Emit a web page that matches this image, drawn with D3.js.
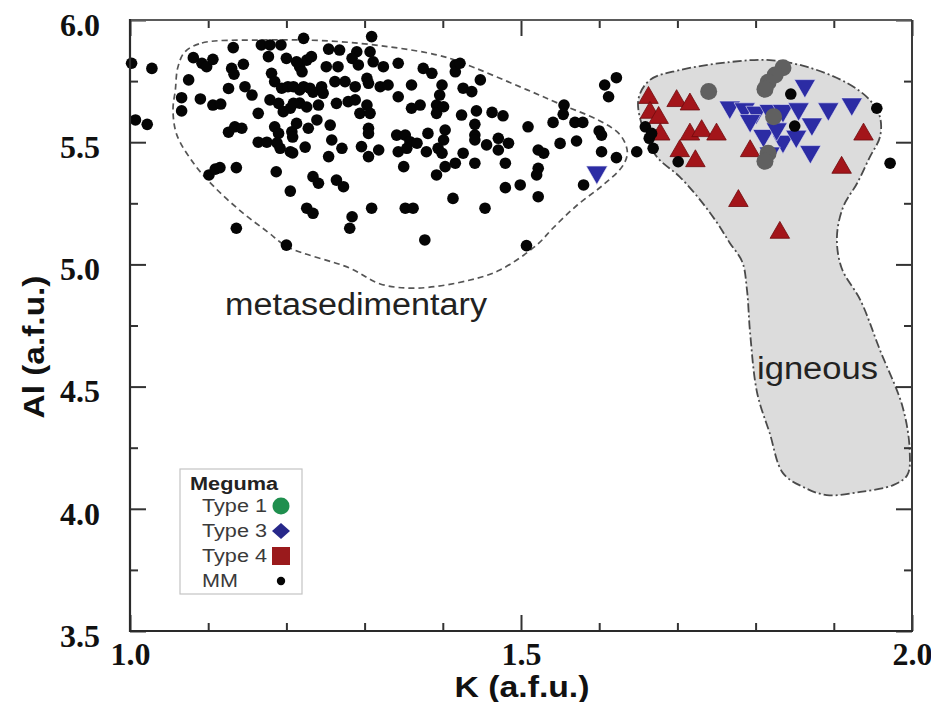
<!DOCTYPE html>
<html>
<head>
<meta charset="utf-8">
<script src="https://cdn.jsdelivr.net/npm/d3@7"></script>
<style>
  body { margin: 0; background: #fff; }
  svg { display: block; }
</style>
</head>
<body>
<svg id="chart" width="931" height="702"></svg>
<script>
// ---- axis settings ----
const xDomain = [1.0, 2.0];
const yDomain = [3.5, 6.0];
const xMajorTicks = [1.0, 1.5, 2.0];
const xMinorTicks = [1.1, 1.2, 1.3, 1.4, 1.6, 1.7, 1.8, 1.9];
const yMajorTicks = [3.5, 4.0, 4.5, 5.0, 5.5, 6.0];
const yMinorTicks = [3.75, 4.25, 4.75, 5.25, 5.75];

// ---- Meguma MM micas: [K, Al] in a.f.u. ----
const mmPoints = [
  [1.002,5.823],[1.028,5.802],[1.007,5.591],[1.022,5.573],
  [1.081,5.846],[1.092,5.823],[1.098,5.809],[1.106,5.839],[1.075,5.755],[1.066,5.682],[1.066,5.628],
  [1.090,5.677],[1.106,5.652],[1.116,5.656],[1.132,5.887],[1.130,5.802],[1.133,5.778],[1.145,5.819],
  [1.126,5.720],[1.147,5.727],[1.156,5.693],[1.164,5.618],[1.126,5.541],[1.134,5.563],[1.143,5.557],
  [1.164,5.500],[1.175,5.500],[1.101,5.366],[1.109,5.390],[1.115,5.396],[1.136,5.396],[1.187,5.379],
  [1.205,5.300],[1.136,5.148],[1.200,5.079],[1.168,5.898],[1.179,5.898],[1.193,5.898],[1.177,5.850],
  [1.200,5.843],[1.181,5.782],[1.185,5.748],[1.194,5.721],[1.202,5.727],[1.179,5.673],[1.190,5.659],
  [1.196,5.625],[1.205,5.639],[1.185,5.563],[1.190,5.536],[1.192,5.475],[1.205,5.461],[1.207,5.543],
  [1.217,5.808],[1.226,5.836],[1.217,5.714],[1.234,5.705],[1.217,5.660],[1.226,5.644],[1.208,5.521],
  [1.208,5.456],[1.224,5.480],[1.188,5.497],
  [1.222,5.925],[1.309,5.932],[1.254,5.881],[1.268,5.877],[1.290,5.870],[1.307,5.870],[1.213,5.829],
  [1.232,5.850],[1.220,5.788],[1.251,5.809],[1.266,5.809],[1.284,5.843],[1.292,5.816],[1.311,5.829],
  [1.324,5.809],[1.343,5.823],[1.375,5.802],[1.386,5.782],[1.416,5.816],[1.416,5.788],[1.209,5.727],
  [1.222,5.727],[1.230,5.721],[1.245,5.727],[1.247,5.700],[1.262,5.748],[1.275,5.748],[1.288,5.727],
  [1.303,5.761],[1.305,5.741],[1.320,5.727],[1.330,5.734],[1.343,5.686],[1.360,5.734],[1.399,5.734],
  [1.396,5.693],[1.426,5.721],[1.209,5.659],[1.241,5.652],[1.264,5.659],[1.279,5.666],[1.288,5.673],
  [1.303,5.652],[1.294,5.618],[1.307,5.618],[1.360,5.639],[1.371,5.652],[1.392,5.652],[1.392,5.618],
  [1.401,5.645],[1.424,5.611],[1.213,5.577],[1.228,5.557],[1.239,5.591],[1.256,5.570],[1.305,5.557],
  [1.305,5.536],[1.341,5.529],[1.352,5.529],[1.358,5.502],[1.367,5.496],[1.381,5.536],[1.403,5.550],
  [1.401,5.509],[1.258,5.509],[1.271,5.475],[1.254,5.441],[1.296,5.482],[1.305,5.441],[1.318,5.468],
  [1.343,5.461],[1.354,5.475],[1.350,5.400],[1.379,5.461],[1.394,5.475],[1.399,5.455],[1.392,5.366],
  [1.403,5.400],[1.416,5.414],[1.426,5.455],[1.234,5.359],[1.241,5.332],[1.264,5.345],[1.273,5.318],
  [1.226,5.230],[1.234,5.209],[1.284,5.195],[1.281,5.148],[1.309,5.230],[1.352,5.230],[1.362,5.230],
  [1.413,5.270],[1.377,5.100],
  [1.422,5.823],[1.448,5.755],[1.437,5.707],[1.443,5.628],[1.463,5.622],[1.477,5.608],[1.441,5.573],
  [1.441,5.529],[1.441,5.509],[1.456,5.489],[1.471,5.516],[1.484,5.496],[1.471,5.468],[1.441,5.414],
  [1.480,5.414],[1.509,5.563],[1.522,5.468],[1.529,5.455],[1.522,5.393],[1.520,5.366],[1.480,5.314],
  [1.499,5.325],[1.522,5.277],[1.454,5.230],[1.507,5.077],[1.541,5.581],[1.555,5.652],[1.554,5.614],
  [1.569,5.581],[1.579,5.581],[1.550,5.495],[1.571,5.505],[1.600,5.546],[1.603,5.529],[1.603,5.461],
  [1.622,5.437],[1.580,5.325],[1.607,5.734],[1.622,5.764],[1.612,5.686],[1.648,5.461],
  [1.659,5.563],[1.664,5.516],[1.669,5.475],[1.667,5.536],[1.701,5.420],[1.845,5.697],[1.850,5.566],
  [1.955,5.639],[1.972,5.414]
];

// ---- Type 1 (grey circles) ----
const type1Points = [
  [1.740,5.707],[1.835,5.805],[1.825,5.775],[1.816,5.745],[1.812,5.717],
  [1.823,5.604],[1.816,5.455],[1.812,5.422]
];

// ---- Type 3 (blue inverted triangles) ----
const type3Points = [
  [1.597,5.373],
  [1.863,5.727],[1.767,5.639],[1.786,5.632],[1.801,5.618],[1.818,5.625],[1.835,5.625],
  [1.855,5.632],[1.893,5.632],[1.923,5.652],[1.872,5.570],[1.810,5.523],[1.835,5.499],
  [1.852,5.520],[1.870,5.457],[1.818,5.451],[1.827,5.550],[1.793,5.584]
];

// ---- Type 4 (red triangles) ----
const type4Points = [
  [1.663,5.686],[1.665,5.625],[1.676,5.604],[1.678,5.536],[1.699,5.673],[1.716,5.659],
  [1.716,5.536],[1.731,5.550],[1.750,5.536],[1.703,5.468],[1.723,5.427],[1.793,5.468],
  [1.938,5.536],[1.910,5.400],[1.778,5.264],[1.831,5.134]
];

// ---- field outlines ----
const metasedBoundary = [
  [1.070,5.869],[1.092,5.906],[1.164,5.918],[1.256,5.914],[1.332,5.890],[1.393,5.857],
  [1.422,5.828],[1.508,5.714],[1.550,5.656],[1.601,5.587],[1.627,5.529],[1.636,5.460],
  [1.630,5.403],[1.605,5.325],[1.572,5.243],[1.541,5.149],[1.520,5.079],[1.473,4.977],
  [1.435,4.936],[1.367,4.903],[1.320,4.920],[1.281,4.985],[1.202,5.071],[1.176,5.133],
  [1.143,5.214],[1.109,5.313],[1.083,5.407],[1.060,5.529],[1.055,5.632],[1.058,5.714],
  [1.061,5.804]
];
const igneousBoundary = [
  [1.650,5.673],[1.665,5.755],[1.703,5.795],[1.767,5.828],[1.818,5.836],[1.866,5.808],
  [1.917,5.742],[1.946,5.673],[1.959,5.603],[1.959,5.521],[1.946,5.439],[1.930,5.333],
  [1.912,5.235],[1.904,5.112],[1.910,4.985],[1.934,4.854],[1.959,4.650],[1.988,4.417],
  [1.997,4.241],[1.994,4.138],[1.976,4.097],[1.934,4.069],[1.891,4.056],[1.861,4.089],
  [1.835,4.146],[1.818,4.310],[1.802,4.474],[1.793,4.719],[1.789,4.895],[1.783,5.010],
  [1.767,5.088],[1.751,5.169],[1.729,5.264],[1.703,5.358],[1.674,5.439],[1.659,5.529]
];

const legendTitle = "Meguma";
const legendItems = [
  { label: "Type 1", shape: "circle" },
  { label: "Type 3", shape: "diamond" },
  { label: "Type 4", shape: "square" },
  { label: "MM", shape: "dot" }
];

// ---- drawing ----
const svg = d3.select("#chart");
svg.append("rect").attr("width", 931).attr("height", 702).attr("fill", "#fff");

const plotLeft = 130, plotRight = 912, plotTop = 20, plotBottom = 631;
const x = d3.scaleLinear().domain(xDomain).range([plotLeft, plotRight]);
const y = d3.scaleLinear().domain(yDomain).range([plotBottom, plotTop]);

const outline = d3.line()
  .x(d => x(d[0])).y(d => y(d[1]))
  .curve(d3.curveCatmullRomClosed.alpha(0.5));

// igneous field (filled)
svg.append("path")
  .attr("d", outline(igneousBoundary))
  .attr("fill", "#dcdcdc")
  .attr("stroke", "#4a4a4a")
  .attr("stroke-width", 1.8)
  .attr("stroke-dasharray", "9,3,2,3");

// metasedimentary field (outline only)
svg.append("path")
  .attr("d", outline(metasedBoundary))
  .attr("fill", "none")
  .attr("stroke", "#555")
  .attr("stroke-width", 1.7)
  .attr("stroke-dasharray", "6,4");

// field labels
svg.append("text")
  .attr("x", 225).attr("y", 315)
  .attr("font-family", "Liberation Sans, Arial, sans-serif")
  .attr("font-size", 31)
  .attr("fill", "#222")
  .attr("textLength", 262).attr("lengthAdjust", "spacingAndGlyphs")
  .text("metasedimentary");

svg.append("text")
  .attr("x", 757).attr("y", 379)
  .attr("font-family", "Liberation Sans, Arial, sans-serif")
  .attr("font-size", 31)
  .attr("fill", "#222")
  .attr("textLength", 121).attr("lengthAdjust", "spacingAndGlyphs")
  .text("igneous");

// markers
const triUp = d3.symbol().type(d3.symbolTriangle).size(165);
const triDown = d3.symbol().type(d3.symbolTriangle).size(195);

svg.append("g").selectAll("path")
  .data(type4Points).join("path")
  .attr("d", triUp)
  .attr("transform", d => `translate(${x(d[0])},${y(d[1]) + 1})`)
  .attr("fill", "#a3151a")
  .attr("stroke", "#6e0a0c")
  .attr("stroke-width", 0.8);

svg.append("g").selectAll("path")
  .data(type3Points).join("path")
  .attr("d", triDown)
  .attr("transform", d => `translate(${x(d[0])},${y(d[1]) - 1}) rotate(180)`)
  .attr("fill", "#2c2ca4")
  .attr("stroke", "#e8e8f4")
  .attr("stroke-width", 0.6);

svg.append("g").selectAll("circle")
  .data(type1Points).join("circle")
  .attr("cx", d => x(d[0])).attr("cy", d => y(d[1]))
  .attr("r", 8.5)
  .attr("fill", "#606060");

svg.append("g").selectAll("circle")
  .data(mmPoints).join("circle")
  .attr("cx", d => x(d[0])).attr("cy", d => y(d[1]))
  .attr("r", 5.8)
  .attr("fill", "#050505");

// axes
const tickFont = g => g.selectAll("text")
  .attr("font-family", "Liberation Serif, Times New Roman, serif")
  .attr("font-weight", "bold")
  .attr("font-size", 32)
  .attr("fill", "#111");
const tickLines = g => {
  g.select(".domain").remove();
  g.selectAll("line").attr("stroke", "#333").attr("stroke-width", 2);
};
const fmt = d3.format(".1f");

svg.append("g").attr("transform", `translate(0,${plotBottom})`)
  .call(d3.axisBottom(x).tickValues(xMajorTicks).tickSize(-16).tickPadding(11).tickFormat(fmt))
  .call(tickLines).call(tickFont);
svg.append("g").attr("transform", `translate(0,${plotBottom})`)
  .call(d3.axisBottom(x).tickValues(xMinorTicks).tickSize(-8).tickFormat(""))
  .call(tickLines);
svg.append("g").attr("transform", `translate(0,${plotTop})`)
  .call(d3.axisTop(x).tickValues(xMajorTicks).tickSize(-16).tickFormat(""))
  .call(tickLines);
svg.append("g").attr("transform", `translate(0,${plotTop})`)
  .call(d3.axisTop(x).tickValues(xMinorTicks).tickSize(-8).tickFormat(""))
  .call(tickLines);

svg.append("g").attr("transform", `translate(${plotLeft},0)`)
  .call(d3.axisLeft(y).tickValues(yMajorTicks).tickSize(-16).tickPadding(30).tickFormat(fmt))
  .call(tickLines).call(tickFont)
  .call(g => g.selectAll("text").attr("dy", "0.48em"));
svg.append("g").attr("transform", `translate(${plotLeft},0)`)
  .call(d3.axisLeft(y).tickValues(yMinorTicks).tickSize(-8).tickFormat(""))
  .call(tickLines);
svg.append("g").attr("transform", `translate(${plotRight},0)`)
  .call(d3.axisRight(y).tickValues(yMajorTicks).tickSize(-16).tickFormat(""))
  .call(tickLines);
svg.append("g").attr("transform", `translate(${plotRight},0)`)
  .call(d3.axisRight(y).tickValues(yMinorTicks).tickSize(-8).tickFormat(""))
  .call(tickLines);

// plot frame
const frame = svg.append("g").attr("fill", "none");
frame.append("line").attr("x1", plotLeft).attr("x2", plotRight).attr("y1", plotTop).attr("y2", plotTop)
  .attr("stroke", "#5a5a5a").attr("stroke-width", 2);
frame.append("line").attr("x1", plotRight).attr("x2", plotRight).attr("y1", plotTop).attr("y2", plotBottom)
  .attr("stroke", "#3a3a3a").attr("stroke-width", 2);
frame.append("line").attr("x1", plotLeft).attr("x2", plotLeft).attr("y1", plotTop - 1).attr("y2", plotBottom + 1)
  .attr("stroke", "#2a2a2a").attr("stroke-width", 2.2);
frame.append("line").attr("x1", plotLeft - 1).attr("x2", plotRight + 1).attr("y1", plotBottom).attr("y2", plotBottom)
  .attr("stroke", "#2a2a2a").attr("stroke-width", 2.2);

// axis titles
svg.append("text")
  .attr("x", 522).attr("y", 697)
  .attr("text-anchor", "middle")
  .attr("font-family", "Liberation Sans, Arial, sans-serif")
  .attr("font-weight", "bold")
  .attr("font-size", 30)
  .attr("fill", "#111")
  .attr("textLength", 135).attr("lengthAdjust", "spacingAndGlyphs")
  .text("K (a.f.u.)");

svg.append("text")
  .attr("transform", "translate(44,347) rotate(-90)")
  .attr("text-anchor", "middle")
  .attr("font-family", "Liberation Sans, Arial, sans-serif")
  .attr("font-weight", "bold")
  .attr("font-size", 30)
  .attr("fill", "#111")
  .attr("textLength", 143).attr("lengthAdjust", "spacingAndGlyphs")
  .text("Al (a.f.u.)");

// legend
const legend = svg.append("g");
legend.append("rect")
  .attr("x", 180).attr("y", 469).attr("width", 122).attr("height", 125)
  .attr("fill", "#fff").attr("stroke", "#c4c4c4").attr("stroke-width", 1.2);
legend.append("text")
  .attr("x", 190).attr("y", 490)
  .attr("font-family", "Liberation Sans, Arial, sans-serif")
  .attr("font-weight", "bold").attr("font-size", 18).attr("fill", "#222")
  .attr("textLength", 88).attr("lengthAdjust", "spacingAndGlyphs")
  .text(legendTitle);

const rowY = d3.scalePoint().domain(legendItems.map(d => d.label)).range([506, 581]);
const rows = legend.selectAll("g.row").data(legendItems).join("g")
  .attr("class", "row")
  .attr("transform", d => `translate(0,${rowY(d.label)})`);
rows.append("text")
  .attr("x", 202).attr("y", 0).attr("dy", "0.36em")
  .attr("font-family", "Liberation Sans, Arial, sans-serif")
  .attr("font-size", 18).attr("fill", "#3a3a3a")
  .attr("textLength", d => d.label === "MM" ? 36 : 65)
  .attr("lengthAdjust", "spacingAndGlyphs")
  .text(d => d.label);
rows.each(function(d) {
  const g = d3.select(this);
  if (d.shape === "circle") {
    g.append("circle").attr("cx", 281).attr("cy", 0).attr("r", 8.5).attr("fill", "#1f8f4e");
  } else if (d.shape === "diamond") {
    g.append("path").attr("d", "M281,-8 L290,0 L281,8 L272,0 Z").attr("fill", "#27288a");
  } else if (d.shape === "square") {
    g.append("rect").attr("x", 272).attr("y", -9).attr("width", 18).attr("height", 18).attr("fill", "#9a1a1c");
  } else {
    g.append("circle").attr("cx", 281).attr("cy", 0).attr("r", 4.2).attr("fill", "#050505");
  }
});
</script>
</body>
</html>
